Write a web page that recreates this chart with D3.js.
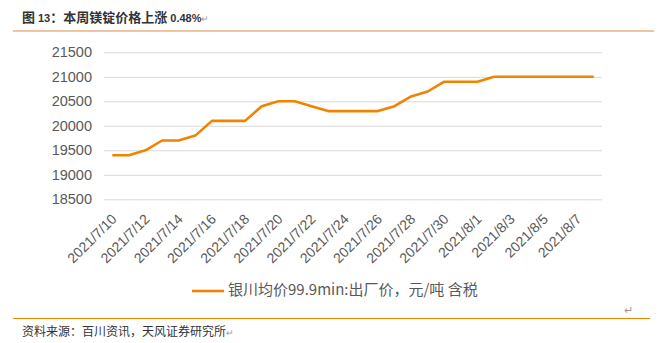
<!DOCTYPE html>
<html><head><meta charset="utf-8">
<script src="https://cdn.jsdelivr.net/npm/d3@7"></script>
<style>html,body{margin:0;padding:0;background:#fff;}svg{display:block;}</style>
</head><body>
<svg id="c" width="666" height="343"></svg>
<script>
const dates = ["2021/7/10","2021/7/11","2021/7/12","2021/7/13","2021/7/14","2021/7/15","2021/7/16","2021/7/17","2021/7/18","2021/7/19",
  "2021/7/20","2021/7/21","2021/7/22","2021/7/23","2021/7/24","2021/7/25","2021/7/26","2021/7/27","2021/7/28","2021/7/29",
  "2021/7/30","2021/7/31","2021/8/1","2021/8/2","2021/8/3","2021/8/4","2021/8/5","2021/8/6","2021/8/7","2021/8/8"];
const prices = [19400,19400,19500,19700,19700,19800,20100,20100,20100,20400,
  20500,20500,20400,20300,20300,20300,20300,20400,20600,20700,
  20900,20900,20900,21000,21000,21000,21000,21000,21000,21000];
const xTickLabels = ["2021/7/10","2021/7/12","2021/7/14","2021/7/16","2021/7/18","2021/7/20","2021/7/22","2021/7/24",
  "2021/7/26","2021/7/28","2021/7/30","2021/8/1","2021/8/3","2021/8/5","2021/8/7"];
const yTicks = [18500,19000,19500,20000,20500,21000,21500];
const seriesName = "银川均价99.9min:出厂价，元/吨 含税";
const titleText = ["图 ", "13", "：本周镁锭价格上涨 ", "0.48%"];
const sourceText = "资料来源：百川资讯，天风证券研究所";

const svg = d3.select("#c");
const orange = "#F08300";
const gray = "#595959";
const latin = "'Liberation Sans', Arial, 'Noto Sans CJK SC', sans-serif";
const cjk = "'Noto Sans CJK SC', 'Liberation Sans', sans-serif";

const x = d3.scalePoint().domain(dates).range([104, 602]).padding(0.5);
const y = d3.scaleLinear().domain([18500, 21500]).range([199.3, 52.3]);

// title
const t = svg.append("text").attr("x", 22).attr("y", 21.5).attr("fill", "#333")
  .attr("font-weight", "bold");
t.append("tspan").text(titleText[0]).attr("font-family", cjk).attr("font-size", 13);
t.append("tspan").text(titleText[1]).attr("font-family", latin).attr("font-size", 11);
t.append("tspan").text(titleText[2].trim()).attr("font-family", cjk).attr("font-size", 13);
t.append("tspan").text(" " + titleText[3]).attr("font-family", latin).attr("font-size", 11);
t.append("tspan").text("↵").attr("font-family", cjk).attr("font-size", 9).attr("font-weight", "normal").attr("fill", "#999");

svg.append("line").attr("x1", 13).attr("x2", 654).attr("y1", 31).attr("y2", 31)
  .attr("stroke", "#E0893F").attr("stroke-width", 1.2);

// grid
const yAxis = d3.axisLeft(y).tickValues(yTicks).tickSize(-(602 - 104)).tickPadding(12).tickFormat(d3.format("d"));
const ga = svg.append("g").attr("transform", "translate(104,0)").call(yAxis);
ga.select(".domain").remove();
ga.selectAll(".tick line").attr("stroke", "#D9D9D9").attr("stroke-width", 1);
ga.selectAll(".tick text").attr("fill", gray).attr("font-size", 14.5).attr("font-family", latin);

// x labels
const xAxis = d3.axisBottom(x).tickValues(xTickLabels).tickSize(0).tickPadding(0);
const gx = svg.append("g").attr("transform", "translate(0,199.3)").call(xAxis);
gx.select(".domain").remove();
gx.selectAll(".tick text")
  .attr("fill", gray).attr("font-size", 14).attr("font-family", latin)
  .attr("text-anchor", "end").attr("dominant-baseline", "middle")
  .attr("dy", null).attr("y", 0)
  .attr("transform", "translate(2,18) rotate(-45)");

// line
const line = d3.line().x((d, i) => x(dates[i])).y(d => y(d));
svg.append("path").datum(prices).attr("d", line).attr("fill", "none")
  .attr("stroke", orange).attr("stroke-width", 2.6).attr("stroke-linejoin", "round");

// legend
svg.append("line").attr("x1", 192).attr("x2", 224).attr("y1", 291).attr("y2", 291)
  .attr("stroke", orange).attr("stroke-width", 2.6);
svg.append("text").attr("x", 228).attr("y", 291).attr("dominant-baseline", "middle")
  .attr("fill", gray).attr("font-size", 15).attr("font-family", cjk).text(seriesName);

svg.append("text").attr("x", 624).attr("y", 314).attr("fill", "#999").attr("font-size", 11)
  .attr("font-family", cjk).text("↵");

// bottom line + source
svg.append("line").attr("x1", 13).attr("x2", 650).attr("y1", 318.5).attr("y2", 318.5)
  .attr("stroke", orange).attr("stroke-width", 1.2);
const s = svg.append("text").attr("x", 22).attr("y", 336).attr("fill", "#333")
  .attr("font-size", 12).attr("font-family", cjk).text(sourceText);
s.append("tspan").text("↵").attr("fill", "#999").attr("font-size", 9);
</script>
</body></html>
